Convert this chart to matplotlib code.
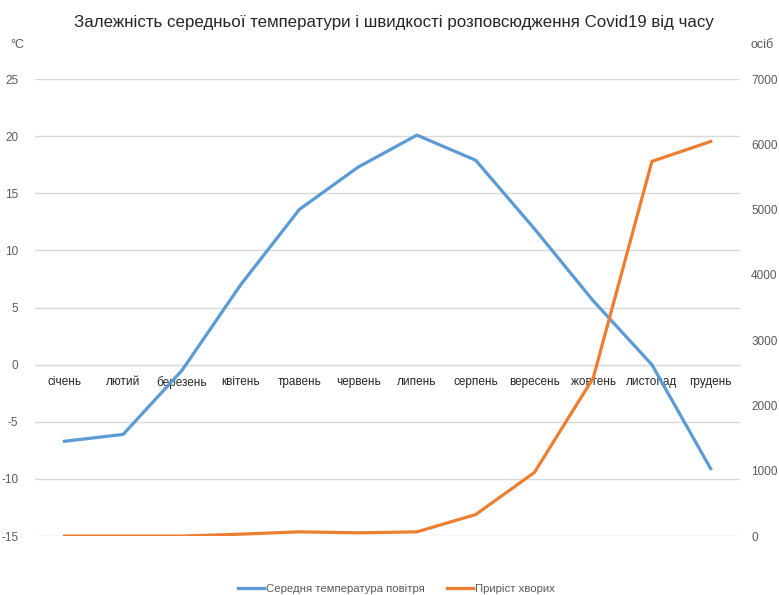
import matplotlib.pyplot as plt

plt.rcParams["font.family"] = ["Liberation Sans", "DejaVu Sans"]
plt.rcParams["axes.unicode_minus"] = False

months = ["січень", "лютий", "березень", "квітень", "травень", "червень",
          "липень", "серпень", "вересень", "жовтень", "листопад", "грудень"]
temperature = [-6.7, -6.1, -0.5, 7.0, 13.6, 17.3, 20.1, 17.9, 11.9, 5.6, 0.0, -9.1]
cases = [0, 0, 0, 30, 65, 50, 65, 330, 975, 2420, 5740, 6045]

blue = "#5B9BD5"
orange = "#ED7D31"
grey = "#595959"

fig = plt.figure(figsize=(7.79, 5.95), dpi=100)
ax = fig.add_axes([0.045, 0.099, 0.905, 0.768])
ax2 = ax.twinx()

x = list(range(len(months)))
l1, = ax.plot(x, temperature, color=blue, lw=2.3, label="Середня температура повітря",
              solid_joinstyle="round", zorder=3)
l2, = ax2.plot(x, cases, color=orange, lw=2.3, label="Приріст хворих",
               solid_joinstyle="round", zorder=3)

ax.set_xlim(-0.5, len(months) - 0.5)
ax.set_ylim(-15, 25)
ax.set_yticks(range(-15, 26, 5))
ax2.set_ylim(0, 7000)
ax2.set_yticks(range(0, 7001, 1000))

ax.grid(axis="y", color="#d9d9d9", lw=1)
ax.set_axisbelow(True)

for a in (ax, ax2):
    for s in a.spines.values():
        s.set_visible(False)

ax.spines["bottom"].set_visible(True)
ax.spines["bottom"].set_position(("data", 0))
ax.spines["bottom"].set_color("#d9d9d9")
ax.set_xticks(x)
ax.set_xticklabels(months)
ax.tick_params(axis="x", length=0, pad=8, labelsize=8.5, colors="#262626")
ax.tick_params(axis="y", length=0, pad=12, labelsize=8.5, labelcolor=grey)
ax2.tick_params(axis="y", length=0, pad=8, labelsize=8.5, labelcolor=grey)

fig.text(0.506, 0.963, "Залежність середньої температури і швидкості розповсюдження Covid19 від часу",
         ha="center", va="center", fontsize=12.2, color="#262626")
fig.text(0.013, 0.925, "°C", ha="left", va="center", fontsize=9, color=grey)
fig.text(0.963, 0.925, "осіб", ha="left", va="center", fontsize=9, color=grey)

fig.legend(handles=[l1, l2], loc="center", bbox_to_anchor=(0.509, 0.01), ncol=2,
           frameon=False, fontsize=8.2, handlelength=2.3, columnspacing=1.9,
           handletextpad=0.2, labelcolor=grey)

fig.savefig("out.png", dpi=100)
